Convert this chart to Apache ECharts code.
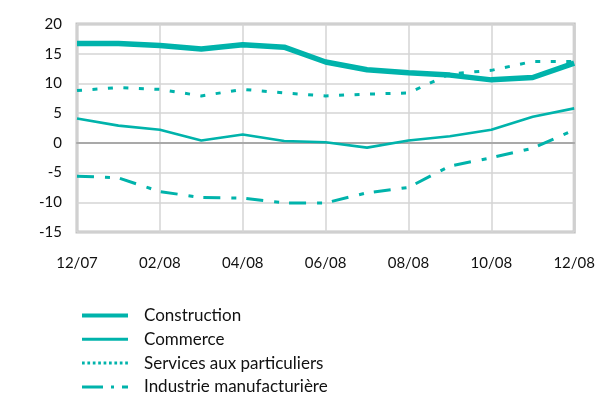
<!DOCTYPE html>
<html>
<head>
<meta charset="utf-8">
<script src="https://cdn.jsdelivr.net/npm/echarts@6/dist/echarts.min.js"></script>
<style>
  html, body { margin: 0; padding: 0; background: #fff; }
  #chart { width: 598px; height: 396px; }
</style>
</head>
<body>
<div id="chart"></div>
<script>
// Monthly balances of opinion, December 2007 to December 2008
const months = ['12/07', '01/08', '02/08', '03/08', '04/08', '05/08', '06/08',
                '07/08', '08/08', '09/08', '10/08', '11/08', '12/08'];
const construction = [16.7, 16.7, 16.4, 15.8, 16.5, 16.1, 13.6, 12.3, 11.8, 11.4, 10.6, 11.0, 13.4];
const commerce     = [4.1, 2.9, 2.2, 0.4, 1.4, 0.3, 0.1, -0.8, 0.4, 1.1, 2.2, 4.4, 5.8];
const services     = [8.8, 9.3, 9.0, 7.9, 9.0, 8.4, 7.9, 8.2, 8.4, 11.6, 12.2, 13.7, 13.7];
const industrie    = [-5.6, -5.9, -8.2, -9.2, -9.3, -10.1, -10.1, -8.4, -7.5, -3.9, -2.5, -0.9, 2.2];
const yTicks = { min: -15, max: 20, step: 5 };

const teal = '#00b3ab';
const font = 'Lato, "Open Sans", sans-serif';

const chart = echarts.init(document.getElementById('chart'), null, { renderer: 'canvas' });

function line(name, data, width, type) {
  return {
    name: name,
    type: 'line',
    data: data,
    symbol: 'none',
    smooth: false,
    lineStyle: { color: teal, width: width, type: type, cap: 'butt' },
    itemStyle: { color: teal }
  };
}

chart.setOption({
  animation: false,
  color: [teal],
  grid: {
    left: 77, right: 23, top: 24, bottom: 164,
    show: true, borderColor: '#c2c2c2', borderWidth: 3, backgroundColor: 'transparent'
  },
  xAxis: {
    type: 'category',
    data: months,
    boundaryGap: false,
    axisLine: { onZero: true, lineStyle: { color: '#a9a9a9', width: 2 } },
    axisTick: { show: false },
    axisLabel: { interval: 1, margin: 24, color: '#111', fontSize: 15, fontFamily: font },
    splitLine: { show: true, interval: 1, lineStyle: { color: '#d4d4d4', width: 1.5 } }
  },
  yAxis: {
    type: 'value',
    min: yTicks.min, max: yTicks.max, interval: yTicks.step,
    axisLine: { show: false },
    axisTick: { show: false },
    axisLabel: { margin: 15, color: '#111', fontSize: 15, fontFamily: font },
    splitLine: { lineStyle: { color: '#d4d4d4', width: 1.5 } }
  },
  legend: {
    orient: 'vertical',
    left: 80, top: 307, height: 120,
    padding: 0,
    itemWidth: 46, itemHeight: 14, itemGap: 6.8,
    itemStyle: { opacity: 0 },
    textStyle: { fontSize: 17, lineHeight: 14, fontFamily: font, color: '#111', padding: [0, 0, 0, 11] },
    data: [
      { name: 'Construction', lineStyle: { width: 4 } },
      { name: 'Commerce', lineStyle: { width: 3 } },
      { name: 'Services aux particuliers', lineStyle: { width: 3, type: [2.7, 2.7] } },
      { name: 'Industrie manufacturière', lineStyle: { width: 3, type: [21, 8, 3, 8] } }
    ]
  },
  series: [
    line('Construction', construction, 5.5, 'solid'),
    line('Commerce', commerce, 2.6, 'solid'),
    line('Services aux particuliers', services, 3, [5, 10.5]),
    line('Industrie manufacturière', industrie, 3, [17, 11, 5, 10])
  ]
});
</script>
</body>
</html>
